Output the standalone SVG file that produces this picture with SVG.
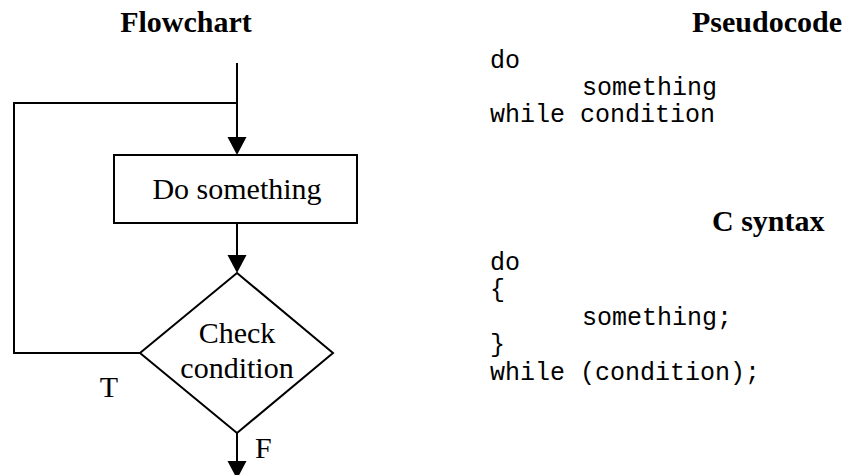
<svg xmlns="http://www.w3.org/2000/svg" width="844" height="475" viewBox="0 0 844 475">
  <style>
    .shape { fill: #fff; stroke: #000; stroke-width: 2; }
    .wire { fill: none; stroke: #000; stroke-width: 2; }
    .head { font-family: "Liberation Serif", "Times New Roman", serif; font-weight: bold; font-size: 30px; fill: #000; }
    .label { font-family: "Liberation Serif", "Times New Roman", serif; font-size: 30px; fill: #000; }
    .code { font-family: "Liberation Mono", "Courier New", monospace; font-size: 25px; fill: #000; white-space: pre; }
  </style>
  <defs>
    <marker id="arrow" markerUnits="userSpaceOnUse" markerWidth="20" markerHeight="20" refX="16" refY="9.5" orient="auto">
      <path d="M0,0 L18,9.5 L0,19 Z" fill="#000"/>
    </marker>
  </defs>

  <rect width="844" height="475" fill="#fff"/>

  <!-- section headings -->
  <text class="head" x="186" y="32" text-anchor="middle">Flowchart</text>
  <text class="head" x="692" y="32">Pseudocode</text>
  <text class="head" x="712" y="231">C syntax</text>

  <!-- connectors -->
  <g id="connectors">
    <line class="wire" x1="237" y1="63" x2="237" y2="153" marker-end="url(#arrow)"/>
    <line class="wire" x1="237" y1="223" x2="237" y2="271" marker-end="url(#arrow)"/>
    <polyline class="wire" points="140,353 14,353 14,103 237,103"/>
    <line class="wire" x1="237" y1="433" x2="237" y2="477" marker-end="url(#arrow)"/>
    <text class="label" x="109" y="397" text-anchor="middle">T</text>
    <text class="label" x="255" y="458">F</text>
  </g>

  <!-- process step -->
  <g id="node-do">
    <rect class="shape" x="114" y="155" width="243" height="68"/>
    <text class="label" x="237" y="199" text-anchor="middle">Do something</text>
  </g>

  <!-- decision -->
  <g id="node-check">
    <polygon class="shape" points="237,273 333,353 237,433 140,353"/>
    <text class="label" x="237" y="343" text-anchor="middle">Check</text>
    <text class="label" x="237" y="378" text-anchor="middle">condition</text>
  </g>

  <!-- pseudocode listing -->
  <g id="pseudocode">
    <text class="code" x="490" y="68">do</text>
    <text class="code" x="582" y="95">something</text>
    <text class="code" x="490" y="122">while condition</text>
  </g>

  <!-- C listing -->
  <g id="c-syntax">
    <text class="code" x="490" y="270">do</text>
    <text class="code" x="490" y="297">{</text>
    <text class="code" x="582" y="325">something;</text>
    <text class="code" x="490" y="352">}</text>
    <text class="code" x="490" y="380">while (condition);</text>
  </g>
</svg>
